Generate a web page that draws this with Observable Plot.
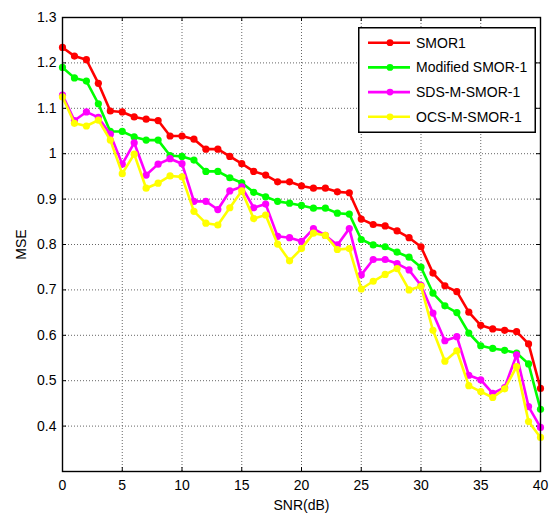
<!DOCTYPE html>
<html>
<head>
<meta charset="utf-8">
<script src="https://cdn.jsdelivr.net/npm/d3@7"></script>
<script src="https://cdn.jsdelivr.net/npm/@observablehq/plot@0.6"></script>
<style>
  html, body { margin: 0; padding: 0; background: #fff; }
  #wrap { position: relative; width: 549px; height: 517px; font-family: "Liberation Sans", Arial, sans-serif; }
  #legend { position: absolute; left: 358px; top: 27px; }
</style>
</head>
<body>
<div id="wrap"></div>
<script>
const snr = [0,1,2,3,4,5,6,7,8,9,10,11,12,13,14,15,16,17,18,19,20,21,22,23,24,25,26,27,28,29,30,31,32,33,34,35,36,37,38,39,40];
const smor1 = [1.234,1.215,1.207,1.155,1.094,1.092,1.081,1.076,1.073,1.039,1.039,1.032,1.010,1.010,0.994,0.978,0.961,0.953,0.938,0.938,0.929,0.924,0.924,0.916,0.914,0.856,0.844,0.841,0.830,0.815,0.795,0.737,0.709,0.696,0.651,0.622,0.614,0.611,0.608,0.581,0.483];
const modifiedSmor1 = [1.190,1.167,1.160,1.110,1.049,1.049,1.037,1.030,1.030,0.996,0.994,0.986,0.961,0.961,0.947,0.936,0.915,0.905,0.895,0.891,0.886,0.880,0.880,0.869,0.867,0.811,0.799,0.795,0.783,0.772,0.750,0.693,0.665,0.650,0.605,0.577,0.571,0.567,0.561,0.537,0.437];
const sdsMSmor1 = [1.129,1.073,1.092,1.080,1.043,0.977,1.024,0.953,0.977,0.989,0.978,0.895,0.895,0.877,0.918,0.927,0.881,0.889,0.818,0.815,0.807,0.835,0.820,0.799,0.835,0.733,0.767,0.767,0.758,0.744,0.710,0.649,0.588,0.597,0.512,0.502,0.472,0.485,0.557,0.443,0.397];
const ocsMSmor1 = [1.125,1.067,1.061,1.074,1.030,0.956,0.999,0.924,0.935,0.951,0.949,0.873,0.847,0.843,0.881,0.918,0.857,0.865,0.801,0.764,0.791,0.825,0.820,0.789,0.791,0.702,0.719,0.734,0.747,0.700,0.708,0.611,0.543,0.566,0.489,0.476,0.463,0.482,0.531,0.410,0.375];

const seriesNames = ["SMOR1", "Modified SMOR-1", "SDS-M-SMOR-1", "OCS-M-SMOR-1"];
const seriesColors = ["#ff0000", "#00ff00", "#ff00ff", "#ffff00"];
const seriesValues = [smor1, modifiedSmor1, sdsMSmor1, ocsMSmor1];

const xTicks = [0,5,10,15,20,25,30,35,40];
const yTicks = [0.4,0.5,0.6,0.7,0.8,0.9,1,1.1,1.2,1.3];
const xGrid = [5,10,15,20,25,30,35];
const yGrid = [0.4,0.5,0.6,0.7,0.8,0.9,1,1.1,1.2];

const W = 549, H = 517, mL = 62, mR = 9, mT = 17, mB = 46;
const plotW = W - mL - mR, plotH = H - mT - mB;
const tickLen = 4;

const marks = [
  Plot.ruleX(xGrid, {x: d => d, stroke: "#666", strokeWidth: 1, strokeDasharray: "1,2"}),
  Plot.ruleY(yGrid, {y: d => d, stroke: "#666", strokeWidth: 1, strokeDasharray: "1,2"}),
  Plot.tickX(xTicks, {x: d => d, insetTop: plotH - tickLen, stroke: "black"}),
  Plot.tickX(xTicks, {x: d => d, insetBottom: plotH - tickLen, stroke: "black"}),
  Plot.tickY(yTicks, {y: d => d, insetRight: plotW - tickLen, stroke: "black"}),
  Plot.tickY(yTicks, {y: d => d, insetLeft: plotW - tickLen, stroke: "black"}),
  Plot.axisX(xTicks, {tickSize: 0, tickPadding: 9, fontSize: 14, label: "SNR(dB)", labelAnchor: "center", labelOffset: 38, labelArrow: "none"}),
  Plot.axisY(yTicks, {tickSize: 0, tickPadding: 6, fontSize: 14, label: "MSE", labelAnchor: "center", labelOffset: 46, labelArrow: "none", tickFormat: d => String(d)})
];
seriesValues.forEach((vals, i) => {
  const data = snr.map((x, j) => ({x, y: vals[j]}));
  marks.push(Plot.line(data, {x: "x", y: "y", stroke: seriesColors[i], strokeWidth: 2.6}));
  marks.push(Plot.dot(data, {x: "x", y: "y", fill: seriesColors[i], r: 3.6}));
});
marks.push(Plot.frame({stroke: "black", strokeWidth: 1.4}));

const chart = Plot.plot({
  width: W, height: H,
  marginLeft: mL, marginRight: mR, marginTop: mT, marginBottom: mB,
  style: {fontFamily: '"Liberation Sans", Arial, sans-serif', fontSize: "14px", color: "black", background: "white"},
  x: {domain: [0, 40]},
  y: {domain: [0.3, 1.3]},
  marks
});
document.getElementById("wrap").appendChild(chart);

// Legend
const lw = 178, lh = 106;
const leg = d3.select("#wrap").append("svg")
  .attr("id", "legend").attr("width", lw).attr("height", lh)
  .style("font-family", '"Liberation Sans", Arial, sans-serif');
leg.append("rect").attr("x", 0.75).attr("y", 0.75).attr("width", lw - 1.5).attr("height", lh - 1.5)
  .attr("fill", "white").attr("stroke", "black").attr("stroke-width", 1.5);
seriesNames.forEach((name, i) => {
  const cy = 15.7 + i * 24.7;
  const g = leg.append("g");
  g.append("line").attr("x1", 10).attr("x2", 52).attr("y1", cy).attr("y2", cy)
    .attr("stroke", seriesColors[i]).attr("stroke-width", 2.6);
  g.append("circle").attr("cx", 32).attr("cy", cy).attr("r", 3.4).attr("fill", seriesColors[i]);
  g.append("text").attr("x", 58).attr("y", cy).attr("dy", "0.35em")
    .attr("font-size", 14).attr("fill", "black").text(name);
});
</script>
</body>
</html>
